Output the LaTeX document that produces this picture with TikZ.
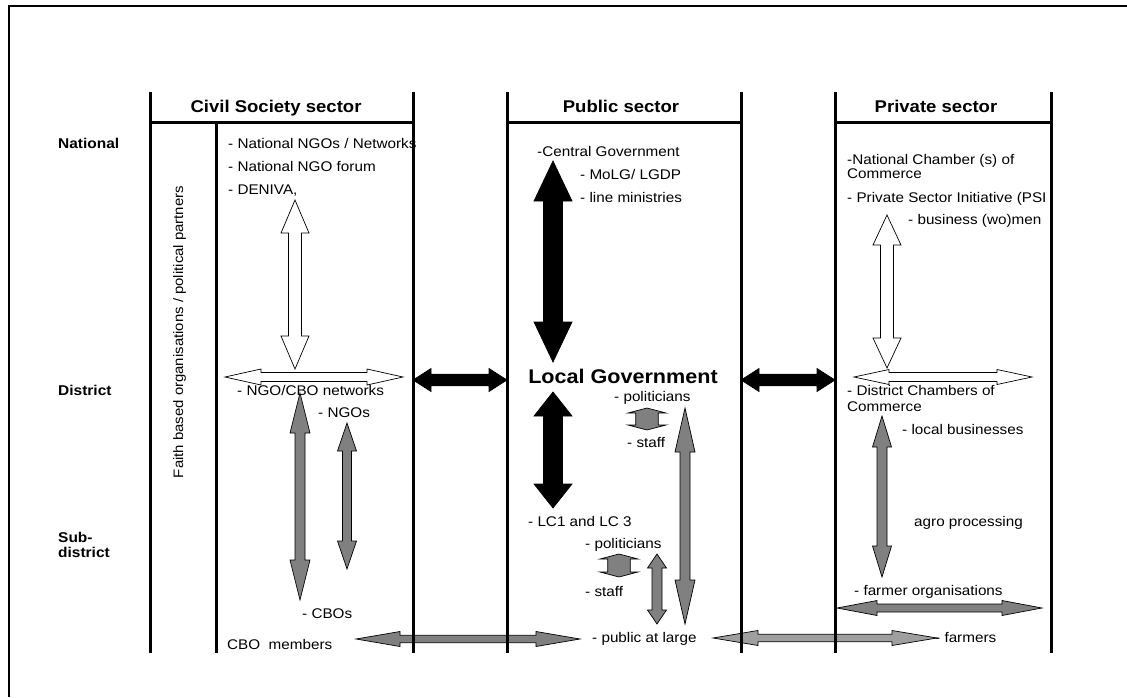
\documentclass[tikz,border=0pt]{standalone}
\usepackage{fontspec}
\setmainfont{Liberation Sans}[FakeStretch=1.09]
\usetikzlibrary{positioning,calc,backgrounds}

\tikzset{
  txt/.style={anchor=base west, inner sep=0pt, align=left, font=\fontsize{14}{15}\selectfont},
  hdr/.style={anchor=base, inner sep=0pt, font=\fontsize{17}{20}\selectfont\bfseries},
  lvl/.style={anchor=base west, inner sep=0pt, align=left, font=\fontsize{14.2}{15}\selectfont\bfseries},
  secline/.style={line width=3pt},
  blk/.style={fill=black, draw=black, line width=0.7pt},
  wht/.style={fill=white, draw=black, line width=0.7pt},
  gry/.style={fill=gray, draw=black, line width=0.7pt},
  lgry/.style={fill=gray!75, draw=black, line width=0.7pt},
}

% [style]{from}{to}{half shaft}{half head}{head length}
\newcommand{\blockarrow}[6][]{%
  \coordinate (ba-s) at ($(#2)!#6!(#3)$);
  \coordinate (ba-e) at ($(#3)!#6!(#2)$);
  \draw[#1] (#2) -- ($(ba-s)!#5!90:(#3)$) -- ($(ba-s)!#4!90:(#3)$)
    -- ($(ba-e)!#4!-90:(#2)$) -- ($(ba-e)!#5!-90:(#2)$) -- (#3)
    -- ($(ba-e)!#5!90:(#2)$) -- ($(ba-e)!#4!90:(#2)$)
    -- ($(ba-s)!#4!-90:(#3)$) -- ($(ba-s)!#5!-90:(#3)$) -- cycle;
}

\begin{document}
\begin{tikzpicture}[x=1pt, y=-1pt]
        \useasboundingbox (0,0) rectangle (1127,697);
        \draw[line width=2.5pt] (9,697) -- (9,6) -- (1127,6);

        \node[hdr] (cs-head) at (276,112) {Civil Society sector};
        \node[hdr] (ps-head) at (621,112) {Public sector};
        \node[hdr] (pv-head) at (936,112) {Private sector};

        \node[lvl] (national) at (58,148) {National};
        \node[lvl] (district) at (58,395) {District};
        \node[lvl] (subdistrict) at (58,557) {Sub-\\district};

        \node[rotate=90, anchor=base, inner sep=0pt, font=\fontsize{13.7}{15}\selectfont] (faith) at (183,332) {Faith based organisations / political partners};

        \node[txt] (ngo-net) at (228,148) {- National NGOs / Networks};
        \node[txt] (ngo-forum) at (228,171) {- National NGO forum};
        \node[txt] (deniva) at (228,194) {- DENIVA,};
        \node[txt] (cbo-net) at (237,395) {- NGO/CBO networks};
        \node[txt] (ngos) at (318,417) {- NGOs};
        \node[txt] (cbos) at (302,618) {- CBOs};
        \node[txt] (cbo-mem) at (227,649) {CBO\ \ members};

        \node[txt] (central) at (537,156) {-Central Government};
        \node[txt] (molg) at (580,179) {- MoLG/ LGDP};
        \node[txt] (line-min) at (580,202) {- line ministries};
        \node[anchor=base, inner sep=0pt, font=\fontsize{19.8}{22}\selectfont\bfseries] (local-gov) at (623,383) {Local Government};
        \node[txt] (pol-d) at (614,401) {- politicians};
        \node[txt] (staff-d) at (627,447) {- staff};
        \node[txt] (lc) at (528,526) {- LC1 and LC 3};
        \node[txt] (pol-s) at (585,548) {- politicians};
        \node[txt] (staff-s) at (585,596) {- staff};
        \node[txt] (public) at (592,642) {- public at large};

        \node[txt] (nat-chamber) at (847,178) {-National Chamber (s) of\\[-1pt]Commerce};
        \node[txt] (psi) at (847,202) {- Private Sector Initiative (PSI};
        \node[txt] (business) at (908,224) {- business (wo)men};
        \node[txt] (dist-chamber) at (847,411) {- District Chambers of\\[1pt]Commerce};
        \node[txt] (local-bus) at (902,434) {- local businesses};
        \node[txt] (agro) at (914,526) {agro processing};
        \node[txt] (farmer-org) at (854,595) {- farmer organisations};
        \node[txt] (farmers) at (935,642) {- farmers};

        \begin{scope}[on background layer]
        \coordinate (cs-nat) at (295,200); \coordinate (cs-dis) at (295,369);
        \coordinate (cs-net-l) at (225,377); \coordinate (cs-net-r) at (403,377);
        \coordinate (cs-ngo-t) at (300,393); \coordinate (cs-cbo-b) at (300,600);
        \coordinate (cs-ngos-t) at (347,423); \coordinate (cs-ngos-b) at (347,569);
        \coordinate (cs-mem) at (356,639); \coordinate (ps-pub-l) at (580,639);
        \coordinate (cs-edge) at (413,380); \coordinate (ps-edge-l) at (507,380);
        \coordinate (ps-edge-r) at (741,380); \coordinate (pv-edge) at (835,380);
        \coordinate (ps-cen) at (553,161); \coordinate (ps-loc-t) at (553,362);
        \coordinate (ps-loc-b) at (553,392); \coordinate (ps-lc) at (553,508);
        \coordinate (ps-pol-d) at (647,408); \coordinate (ps-stf-d) at (647,430);
        \coordinate (ps-pol-s) at (619,554); \coordinate (ps-stf-s) at (619,577);
        \coordinate (ps-sub-t) at (657,554); \coordinate (ps-sub-b) at (657,624);
        \coordinate (ps-dis-t) at (685,408); \coordinate (ps-dis-b) at (685,624);
        \coordinate (ps-pub-r) at (713,638); \coordinate (pv-farm) at (937,638);
        \coordinate (pv-nat) at (887,215); \coordinate (pv-dis) at (887,368);
        \coordinate (pv-ch-l) at (854,377); \coordinate (pv-ch-r) at (1032,377);
        \coordinate (pv-bus-t) at (882,416); \coordinate (pv-bus-b) at (882,577);
        \coordinate (pv-org-l) at (837,608); \coordinate (pv-org-r) at (1042,608);

        \blockarrow[wht]{cs-nat}{cs-dis}{6.5pt}{14pt}{33pt}
        \blockarrow[wht]{cs-net-l}{cs-net-r}{4.5pt}{8pt}{36pt}
        \blockarrow[gry]{cs-ngo-t}{cs-cbo-b}{5pt}{10pt}{40pt}
        \blockarrow[gry]{cs-ngos-t}{cs-ngos-b}{4.5pt}{9.5pt}{28pt}
        \blockarrow[gry]{cs-mem}{ps-pub-l}{3.7pt}{7.5pt}{44pt}
        \blockarrow[blk]{cs-edge}{ps-edge-l}{5.8pt}{11.5pt}{18pt}
        \blockarrow[blk]{ps-edge-r}{pv-edge}{5.8pt}{11.5pt}{18pt}
        \blockarrow[blk]{ps-cen}{ps-loc-t}{9.5pt}{19pt}{40pt}
        \blockarrow[blk]{ps-loc-b}{ps-lc}{9.5pt}{19pt}{24pt}
        \blockarrow[gry]{ps-pol-d}{ps-stf-d}{11.3pt}{19pt}{5pt}
        \blockarrow[gry]{ps-pol-s}{ps-stf-s}{11.3pt}{19pt}{5pt}
        \blockarrow[gry]{ps-sub-t}{ps-sub-b}{5pt}{9.5pt}{14pt}
        \blockarrow[gry]{ps-dis-t}{ps-dis-b}{5pt}{10pt}{44pt}
        \blockarrow[lgry]{ps-pub-r}{pv-farm}{3.7pt}{7.5pt}{45pt}
        \blockarrow[wht]{pv-nat}{pv-dis}{6.5pt}{14pt}{30pt}
        \blockarrow[wht]{pv-ch-l}{pv-ch-r}{4.5pt}{7.5pt}{35pt}
        \blockarrow[gry]{pv-bus-t}{pv-bus-b}{5pt}{9.5pt}{31pt}
        \blockarrow[gry]{pv-org-l}{pv-org-r}{4pt}{7.5pt}{40pt}
        \end{scope}

        \foreach \x in {150,413,507,741,835,1051}
            \draw[secline] (\x,92) -- (\x,653);
        \draw[secline] (216,122) -- (216,653);
        \foreach \a/\b in {150/413,507/741,835/1051}
            \draw[secline] (\a,122) -- (\b,122);
\end{tikzpicture}
\end{document}
